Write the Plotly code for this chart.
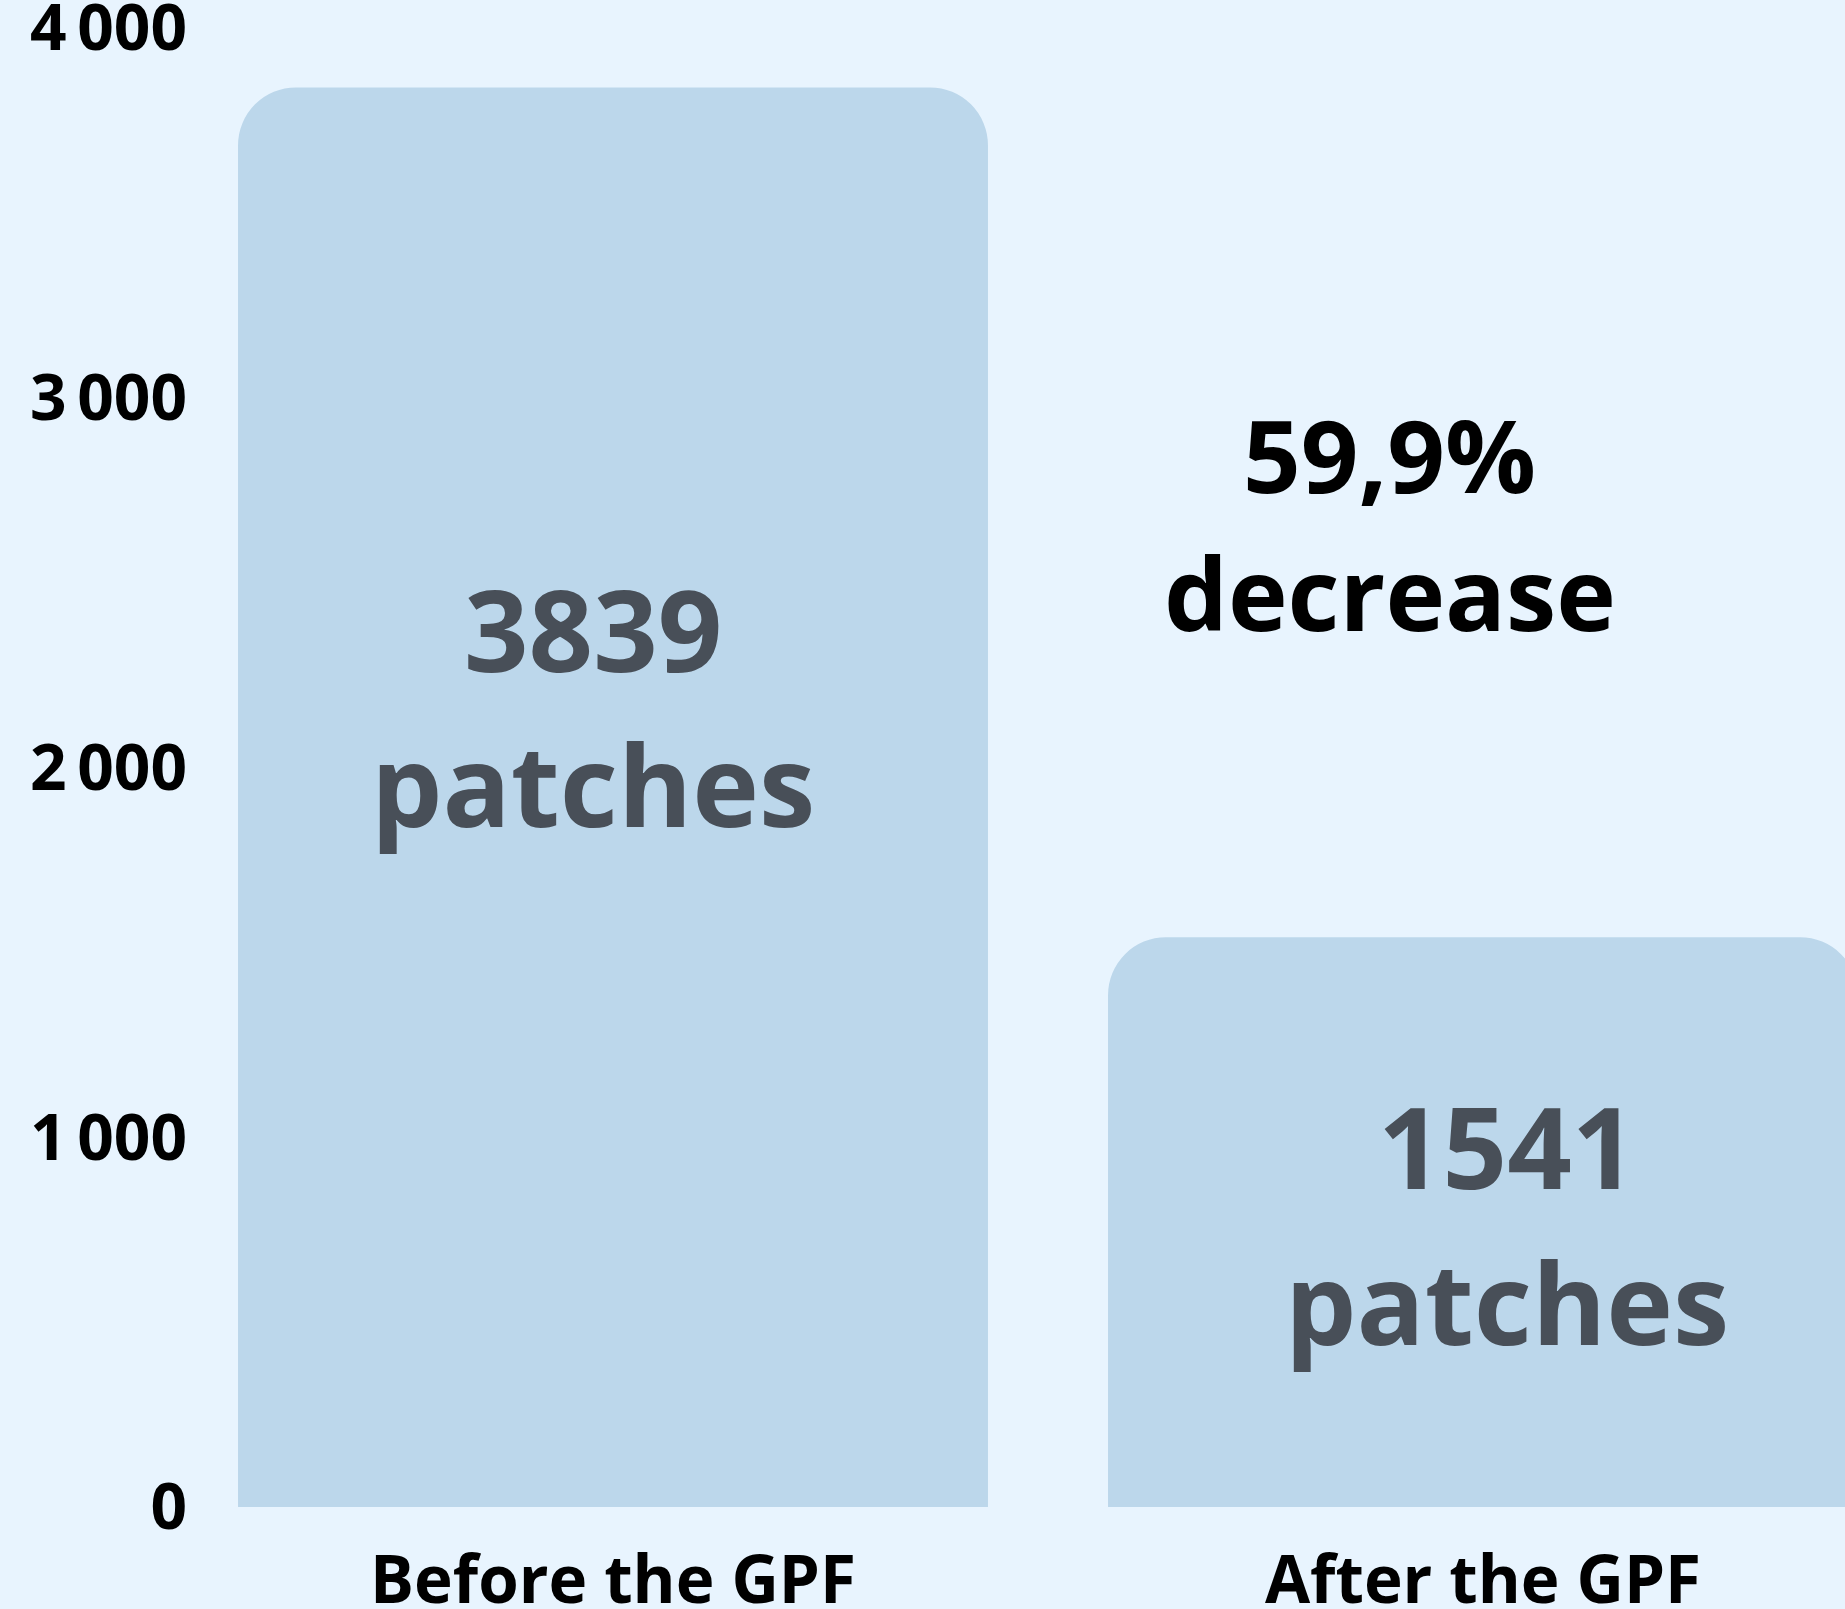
import plotly.graph_objects as go

categories = ["Before the GPF", "After the GPF"]
patches = [3839, 1541]
y_tickvals = [0, 1000, 2000, 3000, 4000]
y_ticktext = ["0", "1\u2009000", "2\u2009000", "3\u2009000", "4\u2009000"]

BG = "#E8F4FE"
BAR = "#BCD7EB"
TXT = "#484F58"
FONT = "Open Sans"

decrease = (patches[0] - patches[1]) / patches[0] * 100
decrease_lines = [f"{decrease:.1f}".replace(".", ",") + "%", "decrease"]

fig = go.Figure()
fig.add_trace(go.Bar(
    x=[0, 1], y=patches, marker=dict(color=BAR, line=dict(width=0)),
    hoverinfo="skip", showlegend=False,
))

# text labels on bars (value line, unit line)
label_pos = [(-0.023, 2378, 1959), (1.028, 980, 558)]
for (xa, y1, y2), v in zip(label_pos, patches):
    for yy, t in ((y1, f"{v}"), (y2, "patches")):
        fig.add_annotation(x=xa, y=yy, xref="x", yref="y", text=t,
                           showarrow=False, xanchor="center", yanchor="middle",
                           font=dict(family=FONT, size=113, color=TXT, weight=700))

for yy, t in zip((2848, 2475), decrease_lines):
    fig.add_annotation(x=0.893, y=yy, xref="x", yref="y", text=t,
                       showarrow=False, xanchor="center", yanchor="middle",
                       font=dict(family=FONT, size=101, color="#000000", weight=700))

fig.update_layout(
    width=1845, height=1609,
    paper_bgcolor=BG, plot_bgcolor=BG,
    margin=dict(l=200, r=0, t=26, b=102, autoexpand=False),
    bargap=0.138, barcornerradius=58,
    xaxis=dict(range=[-(613 - 200) / 870, (1845 - 613) / 870],
               tickvals=[0, 1], ticktext=categories, automargin=False,
               showgrid=False, zeroline=False, showline=False, ticks="",
               ticklabelstandoff=29, ticklabeloverflow="allow",
               tickfont=dict(family=FONT, size=65.5, color="#000000", weight=700)),
    yaxis=dict(range=[0, 4005], tickvals=y_tickvals, ticktext=y_ticktext,
               automargin=False, ticklabeloverflow="allow",
               showgrid=False, zeroline=False, showline=False, ticks="",
               ticklabelstandoff=12,
               tickfont=dict(family=FONT, size=64, color="#000000", weight=700)),
)

fig.write_html("out.html", config={"displayModeBar": False},
               post_script="document.body.style.margin='0';document.body.style.overflow='hidden';")
